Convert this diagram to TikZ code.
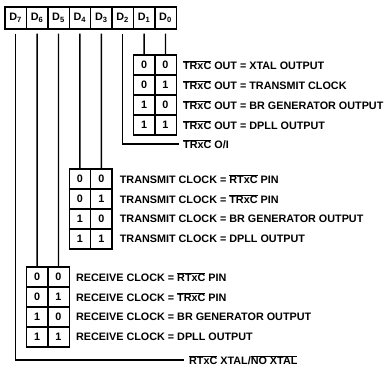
\documentclass[tikz,border=0pt]{standalone}
\usepackage{fontspec}
\newfontfamily\sccfont{Liberation Sans Bold}
\newcommand\ovr[1]{\ensuremath{\overline{\mbox{#1}}}}
\usetikzlibrary{positioning}

\tikzset{
  bitbox/.style={draw,line width=1.4pt,minimum width=21.4pt,minimum height=22pt,inner sep=0pt},
  codebox/.style={draw,line width=1.4pt,minimum width=21.4pt,minimum height=20pt,inner sep=0pt},
  txt/.style={anchor=west,inner sep=0pt},
  wire/.style={line width=1.4pt}
}

\begin{document}
\begin{tikzpicture}[x=1pt,y=-1pt,font=\sccfont\fontsize{10.8}{12}\selectfont]
\useasboundingbox (0,0) rectangle (392,369);
\foreach \b [count=\i] in {7,6,5,4,3,2,1,0}
  \node[bitbox] (d\b) at (21.4*\i-5.7,18) {D\textsubscript{\b}};
\foreach \hi/\lo/\txt [count=\r] in {0/0/XTAL OUTPUT,0/1/TRANSMIT CLOCK,1/0/BR GENERATOR OUTPUT,1/1/DPLL OUTPUT} {
  \node[codebox] (oa\r) at (144.1,45+20*\r) {\hi};
  \node[codebox] (ob\r) at (165.5,45+20*\r) {\lo};
  \node[txt,right=6pt of ob\r] (ol\r) {\ovr{TRxC} OUT = \txt};
}
\foreach \hi/\lo/\txt [count=\r] in {0/0/\ovr{RTxC} PIN,0/1/\ovr{TRxC} PIN,1/0/BR GENERATOR OUTPUT,1/1/DPLL OUTPUT} {
  \node[codebox] (ta\r) at (79.9,159+20*\r) {\hi};
  \node[codebox] (tb\r) at (101.3,159+20*\r) {\lo};
  \node[txt,right=7pt of tb\r] (tl\r) {TRANSMIT CLOCK = \txt};
}
\foreach \hi/\lo/\txt [count=\r] in {0/0/\ovr{RTxC} PIN,0/1/\ovr{TRxC} PIN,1/0/BR GENERATOR OUTPUT,1/1/DPLL OUTPUT} {
  \node[codebox] (ra\r) at (37.1,257+20*\r) {\hi};
  \node[codebox] (rb\r) at (58.5,257+20*\r) {\lo};
  \node[txt,right=6pt of rb\r] (rl\r) {RECEIVE CLOCK = \txt};
}
\node[txt] (oi) at (183,144) {\ovr{TRxC} O/I};
\node[txt] (xt) at (189,360) {\ovr{RTxC} XTAL/\ovr{NO XTAL}};
\draw[wire] ([yshift=-4pt]d1.south) -- (oa1);
\draw[wire] ([yshift=-4pt]d0.south) -- (ob1);
\draw[wire] ([yshift=-4pt]d2.south) |- ([xshift=-4pt]oi.west);
\draw[wire] ([yshift=-4pt]d4.south) -- (ta1);
\draw[wire] ([yshift=-4pt]d3.south) -- (tb1);
\draw[wire] ([yshift=-4pt]d6.south) -- (ra1);
\draw[wire] ([yshift=-4pt]d5.south) -- (rb1);
\draw[wire] ([yshift=-4pt]d7.south) |- ([xshift=-5pt]xt.west);
\end{tikzpicture}
\end{document}
